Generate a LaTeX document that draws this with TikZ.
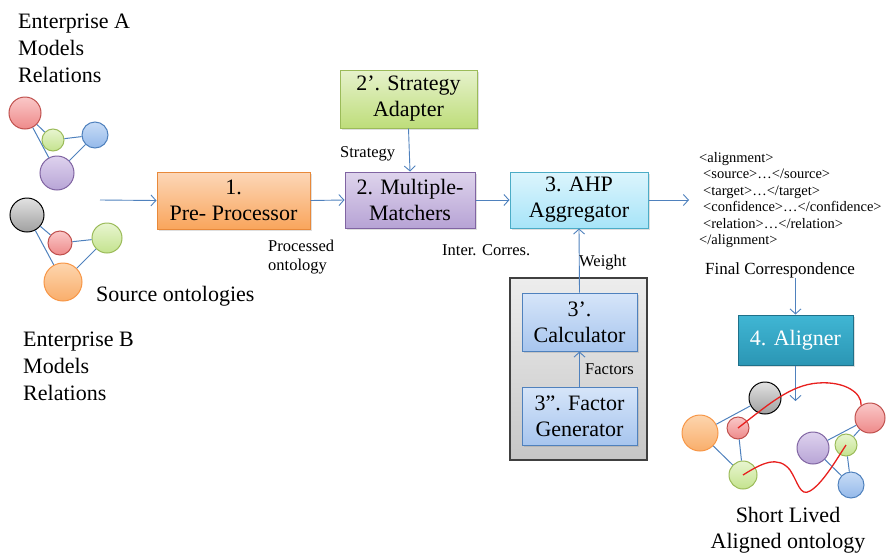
\documentclass[tikz,border=0pt]{standalone}
\usepackage{fontspec}
\setmainfont{Liberation Serif}
\usetikzlibrary{arrows.meta,shadows}
\definecolor{arrowblue}{HTML}{4F81BD}
\definecolor{preTop}{HTML}{FCD7B8}\definecolor{preBot}{HTML}{F9A55C}\definecolor{preLine}{HTML}{E8893A}
\definecolor{saTop}{HTML}{E6F2CC}\definecolor{saBot}{HTML}{BEDD7A}\definecolor{saLine}{HTML}{9BBB59}
\definecolor{mmTop}{HTML}{DED4EC}\definecolor{mmBot}{HTML}{B7A3D5}\definecolor{mmLine}{HTML}{8064A2}
\definecolor{ahTop}{HTML}{DCF5FD}\definecolor{ahBot}{HTML}{A7E4F8}\definecolor{ahLine}{HTML}{4BACC6}
\definecolor{gyTop}{HTML}{EDEDED}\definecolor{gyBot}{HTML}{C6C6C6}\definecolor{gyLine}{HTML}{404040}
\definecolor{clTop}{HTML}{D6E5F9}\definecolor{clBot}{HTML}{A7C5EE}\definecolor{clLine}{HTML}{4F81BD}
\definecolor{alTop}{HTML}{40B6D4}\definecolor{alBot}{HTML}{2B96B4}\definecolor{alLine}{HTML}{1F7089}
\definecolor{redL}{HTML}{C0504D}\definecolor{redT}{HTML}{FAC8C8}\definecolor{redB}{HTML}{EE8A8A}
\definecolor{grnL}{HTML}{9BBB59}\definecolor{grnT}{HTML}{E8F5D0}\definecolor{grnB}{HTML}{C4E38E}
\definecolor{bluL}{HTML}{4F81BD}\definecolor{bluT}{HTML}{C8DCF6}\definecolor{bluB}{HTML}{94B9EA}
\definecolor{purL}{HTML}{8064A2}\definecolor{purT}{HTML}{DED2EE}\definecolor{purB}{HTML}{B8A5D6}
\definecolor{blkT}{HTML}{E2E2E2}\definecolor{blkB}{HTML}{A0A0A0}
\definecolor{orgL}{HTML}{F79646}\definecolor{orgT}{HTML}{FDD5AE}\definecolor{orgB}{HTML}{F9AE6B}
\definecolor{curveRed}{HTML}{E8201E}
\begin{document}
\begin{tikzpicture}[x=1pt,y=-1pt,
  bigtext/.style={font=\fontsize{22}{26}\selectfont},
  lbl/.style={font=\fontsize{16.5}{19}\selectfont, inner sep=0pt},
  procbox/.style={rectangle, draw=#1Line, line width=1pt, top color=#1Top, bottom color=#1Bot,
     align=center, inner sep=0pt, bigtext, drop shadow={opacity=0.25, shadow xshift=1.5pt, shadow yshift=-1.5pt}},
  arr/.style={draw=arrowblue, line width=0.9pt, -{Straight Barb[length=5pt,width=11pt]}},
  edge/.style={draw=arrowblue, line width=1pt},
  dot/.style={circle, inner sep=0pt, line width=1pt, minimum size=#1},
  redc/.style={dot=#1, draw=redL, top color=redT, bottom color=redB},
  grnc/.style={dot=#1, draw=grnL, top color=grnT, bottom color=grnB},
  bluc/.style={dot=#1, draw=bluL, top color=bluT, bottom color=bluB},
  purc/.style={dot=#1, draw=purL, top color=purT, bottom color=purB},
  blkc/.style={dot=#1, draw=black, top color=blkT, bottom color=blkB},
  orgc/.style={dot=#1, draw=orgL, top color=orgT, bottom color=orgB},
  redcurve/.style={draw=curveRed, line width=1.3pt}
]
\useasboundingbox (0,0) rectangle (886,552);

% --- texts left
\node[anchor=north west, align=left, inner sep=0pt, font=\fontsize{22}{27}\selectfont] (entA) at (18,14) {Enterprise A\\Models\\Relations};
\node[anchor=north west, align=left, inner sep=0pt, font=\fontsize{22}{27}\selectfont] (entB) at (23,332) {Enterprise B\\Models\\Relations};
\node[bigtext, anchor=base west, inner sep=0pt] (srcTxt) at (96,301) {Source ontologies};

% --- graph A
\node[redc=32] (a1) at (25,113) {};
\node[grnc=22] (a2) at (53,140) {};
\node[bluc=26] (a3) at (95,135) {};
\node[purc=34] (a4) at (57,173) {};
\draw[edge] (a1) -- (a2);
\draw[edge] (a2) -- (a3);
\draw[edge] (a1) -- (a4);
\draw[edge] (a4) -- (a3);

% --- graph B
\node[blkc=34] (b1) at (27,215) {};
\node[redc=24] (b2) at (60,243) {};
\node[grnc=30] (b3) at (107,238) {};
\node[orgc=38] (b4) at (63,282) {};
\draw[edge] (b1) -- (b2);
\draw[edge] (b2) -- (b3);
\draw[edge] (b1) -- (b4);
\draw[edge] (b4) -- (b3);

% --- process boxes
\node[procbox=pre, minimum width=153pt, minimum height=57pt] (pre) at (233.5,200.5) {1.\\Pre- Processor};
\node[procbox=sa, minimum width=137pt, minimum height=58pt] (sa) at (408.5,99) {2’. Strategy\\Adapter};
\node[procbox=mm, minimum width=130pt, minimum height=56pt] (mm) at (410,200) {2. Multiple-\\Matchers};
\node[procbox=ah, minimum width=138pt, minimum height=56pt] (ahp) at (579,200) {3. AHP\\Aggregator};
\node[rectangle, draw=gyLine, line width=1.2pt, top color=gyTop, bottom color=gyBot, minimum width=137pt, minimum height=182pt, inner sep=0pt] (grp) at (578.5,369) {};
\node[procbox=cl, minimum width=115pt, minimum height=58pt] (calc) at (579.5,322) {3’.\\Calculator};
\node[procbox=cl, minimum width=115pt, minimum height=58pt] (fg) at (579.5,416) {3”. Factor\\Generator};
\node[procbox=al, minimum width=115pt, minimum height=50pt, text=white] (al) at (795.5,340) {4. Aligner};

% --- connectors
\coordinate (srcOut) at (100,200);
\draw[arr] (srcOut) -- (pre.west);
\draw[arr] (pre.east) -- (mm.west);
\draw[arr] (sa.south) -- (mm.north);
\draw[arr] (mm.east) -- (ahp.west);
\draw[arr] (calc.north) -- (ahp.south);
\draw[arr] (fg.north) -- (calc.south);
\coordinate (xmlIn) at (689,200);
\draw[arr] (ahp.east) -- (xmlIn);
\coordinate (fcOut) at (795.5,278);
\draw[arr] (fcOut) -- (al.north);
\coordinate (alOut) at (795.5,401);
\draw[arr] (al.south) -- (alOut);

% --- labels
\node[lbl, anchor=base west] (strat) at (340,157) {Strategy};
\node[lbl, anchor=north west, align=left] (proc) at (268,240) {Processed\\ontology};
\node[lbl, anchor=base west] (inter) at (442,255) {Inter. Corres.};
\node[lbl, anchor=base west] (weight) at (579,266) {Weight};
\node[lbl, anchor=base west] (factors) at (585,374) {Factors};
\node[anchor=north west, align=left, inner sep=0pt, font=\fontsize{14.5}{16.5}\selectfont] (xml) at (699,152)
  {<alignment>\\
   \hspace*{4pt}<source>…</source>\\
   \hspace*{4pt}<target>…</target>\\
   \hspace*{4pt}<confidence>…</confidence>\\
   \hspace*{4pt}<relation>…</relation>\\
   </alignment>};
\node[anchor=base west, inner sep=0pt, font=\fontsize{17}{20}\selectfont] (fc) at (705,274) {Final Correspondence};

% --- aligned ontology graph
\node[blkc=32] (c1) at (765,398) {};
\node[orgc=36] (c2) at (700,433) {};
\node[redc=22] (c3) at (738,428) {};
\node[grnc=28] (c4) at (743,475) {};
\node[purc=32] (c5) at (813,448) {};
\node[grnc=22] (c6) at (846,445) {};
\node[redc=30] (c7) at (870,418) {};
\node[bluc=26] (c8) at (851,485) {};
\draw[edge] (c2) -- (c1);
\draw[edge] (c2) -- (c4);
\draw[edge] (c3) -- (c4);
\draw[edge] (c5) -- (c7);
\draw[edge] (c5) -- (c8);
\draw[edge] (c6) -- (c8);
\draw[edge] (c6) -- (c7);
\draw[redcurve] (c3.center) .. controls (768,405) and (790,385) .. (818,383) .. controls (845,381) and (862,393) .. (c7.125);
\draw[redcurve] (c4.center) .. controls (762,463) and (778,455) .. (790,470) .. controls (798,482) and (800,497) .. (810,491) .. controls (822,484) and (835,462) .. (c6.center);

\node[bigtext, inner sep=0pt, anchor=base] (short) at (788,522) {Short Lived};
\node[bigtext, inner sep=0pt, anchor=base] (aligned) at (788,548) {Aligned ontology};
\end{tikzpicture}
\end{document}
